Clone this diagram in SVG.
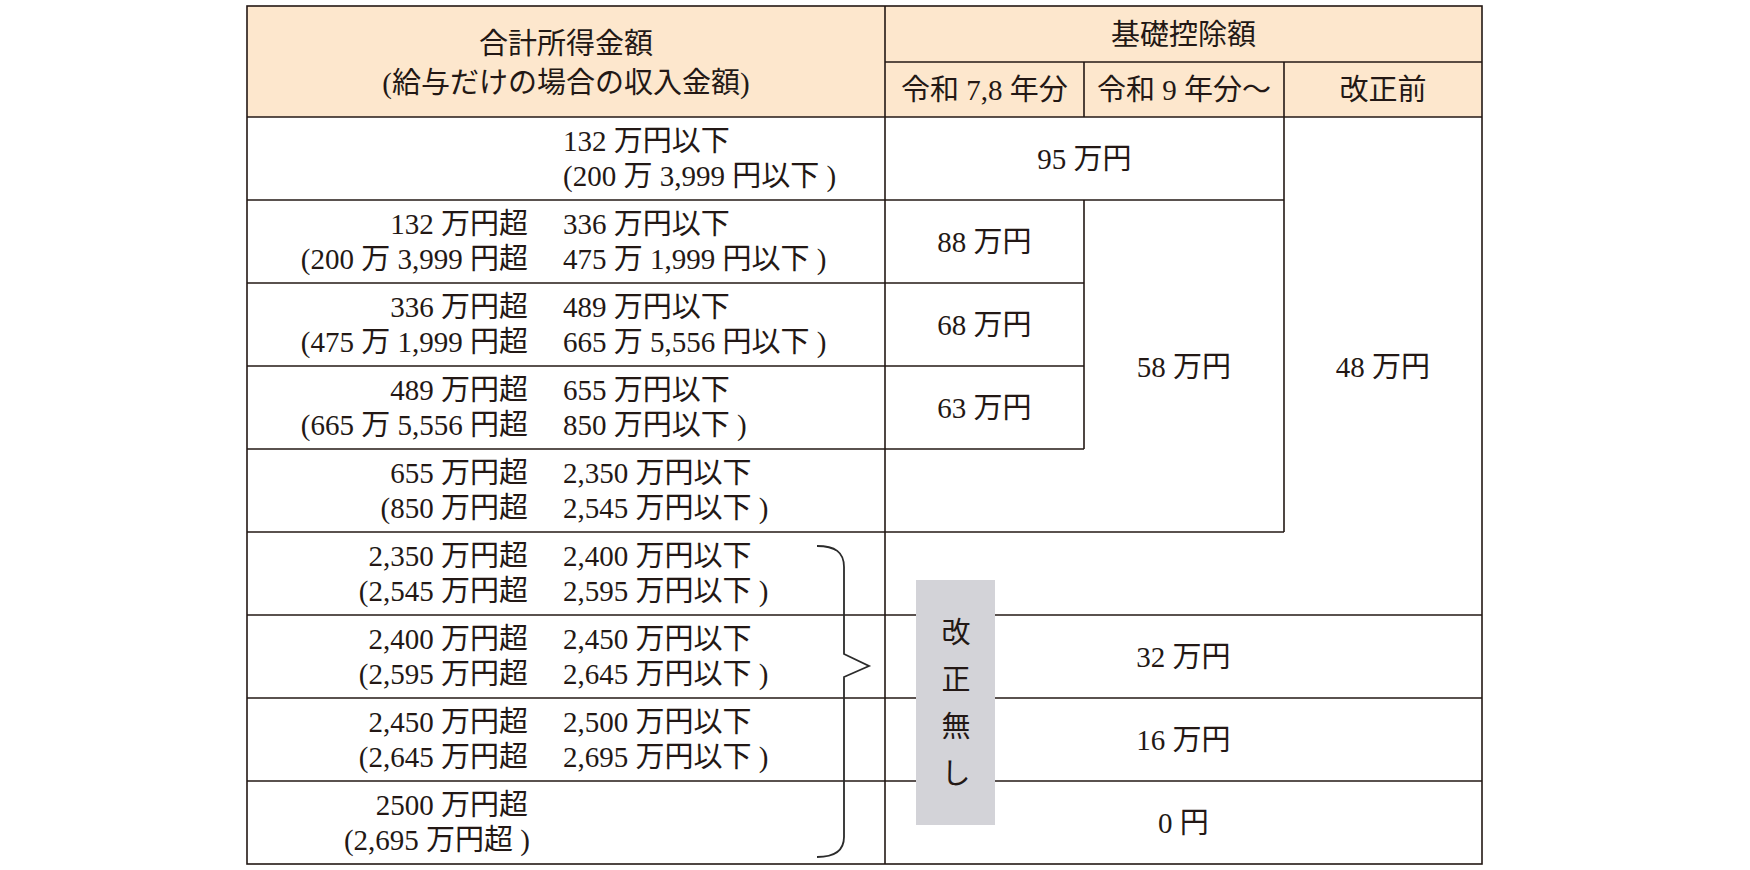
<svg xmlns="http://www.w3.org/2000/svg" width="1750" height="870" viewBox="0 0 1750 870">
<style>
text{font-family:"Liberation Serif","Noto Sans CJK JP",serif;font-size:29px;fill:#231815}
.m{text-anchor:middle}
.e{text-anchor:end}
.s{text-anchor:start}
.ln{stroke:#231815;stroke-width:1.6;fill:none}
.hd{fill:#fde7cd}
.gray{fill:#d3d3d8}
.brace{stroke:#2b2b2b;stroke-width:1.8;fill:none}
</style>
<rect width="1750" height="870" fill="#ffffff"/>
<rect class="hd" x="247" y="6" width="1235" height="111"/>
<g id="grid" class="ln">
<rect x="247" y="6" width="1235" height="858"/>
<line x1="885" y1="62" x2="1482" y2="62"/>
<line x1="247" y1="117" x2="1482" y2="117"/>
<line x1="247" y1="200" x2="1284" y2="200"/>
<line x1="247" y1="283" x2="1084" y2="283"/>
<line x1="247" y1="366" x2="1084" y2="366"/>
<line x1="247" y1="449" x2="1084" y2="449"/>
<line x1="247" y1="532" x2="1284" y2="532"/>
<line x1="247" y1="615" x2="1482" y2="615"/>
<line x1="247" y1="698" x2="1482" y2="698"/>
<line x1="247" y1="781" x2="1482" y2="781"/>
<line x1="885" y1="6" x2="885" y2="864"/>
<line x1="1084" y1="62" x2="1084" y2="117"/>
<line x1="1084" y1="200" x2="1084" y2="449"/>
<line x1="1284" y1="62" x2="1284" y2="532"/>
</g>
<g id="h-income">
<text class="m" x="566" y="54">合計所得金額</text>
<text class="m" x="566" y="93">(給与だけの場合の収入金額)</text>
</g>
<g id="h-deduction"><text class="m" x="1183.5" y="45">基礎控除額</text></g>
<g id="h-r78"><text class="m" x="984.5" y="100">令和 7,8 年分</text></g>
<g id="h-r9"><text class="m" x="1184" y="100">令和 9 年分〜</text></g>
<g id="h-before"><text class="m" x="1383" y="100">改正前</text></g>

<g id="row1"><text class="s" x="563" y="151">132 万円以下</text><text class="s" x="563" y="186">(200 万 3,999 円以下 )</text></g>
<g id="row2"><text class="e" x="528" y="234">132 万円超</text><text class="s" x="563" y="234">336 万円以下</text><text class="e" x="528" y="269">(200 万 3,999 円超</text><text class="s" x="563" y="269">475 万 1,999 円以下 )</text></g>
<g id="row3"><text class="e" x="528" y="317">336 万円超</text><text class="s" x="563" y="317">489 万円以下</text><text class="e" x="528" y="352">(475 万 1,999 円超</text><text class="s" x="563" y="352">665 万 5,556 円以下 )</text></g>
<g id="row4"><text class="e" x="528" y="400">489 万円超</text><text class="s" x="563" y="400">655 万円以下</text><text class="e" x="528" y="435">(665 万 5,556 円超</text><text class="s" x="563" y="435">850 万円以下 )</text></g>
<g id="row5"><text class="e" x="528" y="483">655 万円超</text><text class="s" x="563" y="483">2,350 万円以下</text><text class="e" x="528" y="518">(850 万円超</text><text class="s" x="563" y="518">2,545 万円以下 )</text></g>
<g id="row6"><text class="e" x="528" y="566">2,350 万円超</text><text class="s" x="563" y="566">2,400 万円以下</text><text class="e" x="528" y="601">(2,545 万円超</text><text class="s" x="563" y="601">2,595 万円以下 )</text></g>
<g id="row7"><text class="e" x="528" y="649">2,400 万円超</text><text class="s" x="563" y="649">2,450 万円以下</text><text class="e" x="528" y="684">(2,595 万円超</text><text class="s" x="563" y="684">2,645 万円以下 )</text></g>
<g id="row8"><text class="e" x="528" y="732">2,450 万円超</text><text class="s" x="563" y="732">2,500 万円以下</text><text class="e" x="528" y="767">(2,645 万円超</text><text class="s" x="563" y="767">2,695 万円以下 )</text></g>
<g id="row9"><text class="e" x="528" y="815">2500 万円超</text><text class="e" x="530" y="850">(2,695 万円超 )</text></g>

<g id="v95"><text class="m" x="1084.5" y="169">95 万円</text></g>
<g id="v88"><text class="m" x="984.5" y="252">88 万円</text></g>
<g id="v68"><text class="m" x="984.5" y="335">68 万円</text></g>
<g id="v63"><text class="m" x="984.5" y="418">63 万円</text></g>
<g id="v58"><text class="m" x="1184" y="377">58 万円</text></g>
<g id="v48"><text class="m" x="1383" y="377">48 万円</text></g>
<g id="v32"><text class="m" x="1183.5" y="667">32 万円</text></g>
<g id="v16"><text class="m" x="1183.5" y="750">16 万円</text></g>
<g id="v0"><text class="m" x="1183.5" y="833">0 円</text></g>

<g id="no-change">
<rect class="gray" x="916" y="580" width="79" height="245"/>
<text class="m" x="956" y="643">改</text>
<text class="m" x="956" y="690">正</text>
<text class="m" x="956" y="737">無</text>
<text class="m" x="956" y="784">し</text>
</g>
<g id="connectors">
<path class="brace" d="M817,546 C835,546 844,552 844,567 L844,654 L869,666 L844,677 L844,837 C844,851 835,857 817,857"/>
</g>
</svg>
